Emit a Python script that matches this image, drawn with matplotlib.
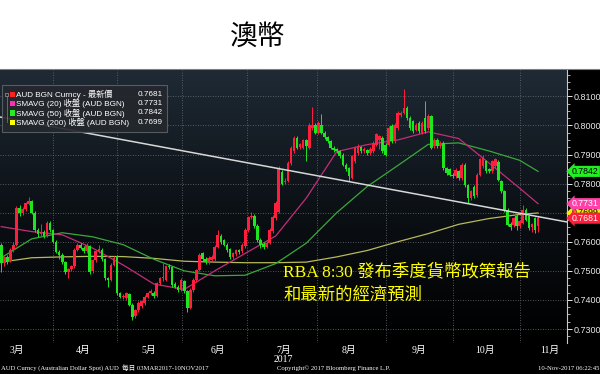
import numpy as np
import matplotlib
matplotlib.use('Agg')
import matplotlib.pyplot as plt
from matplotlib.patches import Rectangle
from matplotlib.lines import Line2D
from matplotlib.colors import LinearSegmentedColormap
from matplotlib.ticker import MultipleLocator, FormatStrFormatter
import matplotlib.transforms as mtransforms

# ---------------- data (daily candles, AUD spot) ----------------
opens = [0.7588, 0.7528, 0.7548, 0.7535, 0.7572, 0.7590, 0.7717, 0.7700, 0.7712, 0.7730,
         0.7740, 0.7700, 0.7640, 0.7625, 0.7635, 0.7620, 0.7665, 0.7640, 0.7600, 0.7565,
         0.7555, 0.7530, 0.7497, 0.7505, 0.7515, 0.7572, 0.7590, 0.7580, 0.7567,
         0.7584, 0.7498, 0.7538, 0.7567, 0.7572, 0.7540, 0.7475, 0.7469, 0.7521, 0.7550,
         0.7423, 0.7411, 0.7406, 0.7420, 0.7383, 0.7345, 0.7366, 0.7380, 0.7389, 0.7411,
         0.7423, 0.7425, 0.7415, 0.7458, 0.7475, 0.7470, 0.7515, 0.7512, 0.7455, 0.7446,
         0.7434, 0.7465, 0.7429,
         0.7372, 0.7434, 0.7469, 0.7503, 0.7560, 0.7540, 0.7530, 0.7538, 0.7540, 0.7583,
         0.7620, 0.7605, 0.7590, 0.7575, 0.7548, 0.7558, 0.7570, 0.7568, 0.7585, 0.7640,
         0.7684, 0.7690, 0.7655, 0.7605, 0.7592, 0.7583, 0.7597, 0.7636, 0.7680, 0.7704,
         0.7840, 0.7805, 0.7810, 0.7870, 0.7911, 0.7957, 0.7925, 0.7923, 0.7950, 0.7923,
         0.7990, 0.8003, 0.7975, 0.8003, 0.7975, 0.7960, 0.7946, 0.7923, 0.7918, 0.7911,
         0.7900, 0.7865, 0.7854, 0.7819, 0.7877, 0.7905, 0.7925, 0.7911, 0.7915, 0.7905,
         0.7911, 0.7934,
         0.7950, 0.7957, 0.7934, 0.7934, 0.7998, 0.7946, 0.7992, 0.8035, 0.8044, 0.8061,
         0.8027, 0.8015, 0.7986, 0.8010, 0.7975, 0.8027, 0.7992, 0.8032, 0.7928, 0.7951,
         0.7928, 0.7940, 0.7854, 0.7850, 0.7831, 0.7825, 0.7842, 0.7819, 0.7865, 0.7796,
         0.7750, 0.7790,
         0.7760, 0.7830, 0.7860, 0.7877, 0.7850, 0.7843, 0.7860, 0.7875, 0.7808, 0.7774,
         0.7710, 0.7662, 0.7659, 0.7690, 0.7655, 0.7665, 0.7710, 0.7687, 0.7650, 0.7681,
         0.7655]
highs = [0.7595, 0.7552, 0.7555, 0.7578, 0.7598, 0.7722, 0.7725, 0.7718, 0.7738, 0.7755,
         0.7745, 0.7705, 0.7648, 0.7660, 0.7640, 0.7672, 0.7670, 0.7645, 0.7605, 0.7570,
         0.7560, 0.7535, 0.7510, 0.7520, 0.7578, 0.7596, 0.7595, 0.7585, 0.7596,
         0.7590, 0.7542, 0.7572, 0.7590, 0.7578, 0.7545, 0.7480, 0.7526, 0.7552, 0.7555,
         0.7428, 0.7420, 0.7428, 0.7425, 0.7388, 0.7370, 0.7395, 0.7400, 0.7416, 0.7428,
         0.7436, 0.7430, 0.7462, 0.7480, 0.7526, 0.7520, 0.7522, 0.7516, 0.7460, 0.7450,
         0.7474, 0.7470, 0.7433,
         0.7440, 0.7474, 0.7508, 0.7562, 0.7566, 0.7546, 0.7550, 0.7553, 0.7588, 0.7640,
         0.7626, 0.7610, 0.7595, 0.7580, 0.7566, 0.7576, 0.7575, 0.7596, 0.7646, 0.7690,
         0.7703, 0.7695, 0.7660, 0.7612, 0.7598, 0.7602, 0.7648, 0.7692, 0.7740, 0.7860,
         0.7848, 0.7818, 0.7876, 0.7928, 0.7962, 0.7962, 0.7940, 0.7955, 0.7955, 0.8008,
         0.8065, 0.8010, 0.8016, 0.8039, 0.7980, 0.7965, 0.7950, 0.7928, 0.7922, 0.7916,
         0.7905, 0.7870, 0.7858, 0.7900, 0.7928, 0.7936, 0.7930, 0.7925, 0.7920, 0.7925,
         0.7946, 0.7975,
         0.7968, 0.7962, 0.7940, 0.7998, 0.8004, 0.8009, 0.8050, 0.8050, 0.8124, 0.8066,
         0.8032, 0.8020, 0.8008, 0.8015, 0.8014, 0.8085, 0.8038, 0.8036, 0.7956, 0.7956,
         0.7945, 0.7945, 0.7858, 0.7855, 0.7836, 0.7853, 0.7847, 0.7870, 0.7870, 0.7800,
         0.7778, 0.7795,
         0.7836, 0.7888, 0.7900, 0.7882, 0.7855, 0.7882, 0.7888, 0.7880, 0.7813, 0.7779,
         0.7715, 0.7668, 0.7686, 0.7695, 0.7675, 0.7728, 0.7715, 0.7692, 0.7665, 0.7686,
         0.7690]
lows = [0.7495, 0.7515, 0.7525, 0.7530, 0.7565, 0.7585, 0.7690, 0.7692, 0.7705, 0.7725,
        0.7695, 0.7635, 0.7618, 0.7620, 0.7612, 0.7615, 0.7635, 0.7595, 0.7560, 0.7540,
        0.7525, 0.7490, 0.7476, 0.7498, 0.7510, 0.7568, 0.7575, 0.7560, 0.7562,
        0.7490, 0.7492, 0.7532, 0.7562, 0.7535, 0.7470, 0.7446, 0.7465, 0.7515, 0.7418,
        0.7405, 0.7402, 0.7400, 0.7378, 0.7330, 0.7338, 0.7360, 0.7372, 0.7384, 0.7405,
        0.7418, 0.7408, 0.7410, 0.7452, 0.7465, 0.7464, 0.7505, 0.7444, 0.7440, 0.7428,
        0.7430, 0.7424, 0.7360,
        0.7368, 0.7428, 0.7462, 0.7498, 0.7535, 0.7522, 0.7524, 0.7533, 0.7535, 0.7578,
        0.7594, 0.7584, 0.7564, 0.7540, 0.7540, 0.7550, 0.7558, 0.7562, 0.7580, 0.7634,
        0.7678, 0.7648, 0.7598, 0.7580, 0.7576, 0.7578, 0.7592, 0.7630, 0.7675, 0.7698,
        0.7795, 0.7798, 0.7805, 0.7865, 0.7905, 0.7918, 0.7920, 0.7918, 0.7877, 0.7918,
        0.7985, 0.7970, 0.7970, 0.7970, 0.7955, 0.7940, 0.7918, 0.7910, 0.7906, 0.7888,
        0.7860, 0.7845, 0.7808, 0.7815, 0.7872, 0.7900, 0.7906, 0.7906, 0.7900, 0.7900,
        0.7906, 0.7928,
        0.7918, 0.7905, 0.7895, 0.7928, 0.7940, 0.7940, 0.7986, 0.8030, 0.8038, 0.8020,
        0.7986, 0.7975, 0.7980, 0.7975, 0.7970, 0.7975, 0.7986, 0.7918, 0.7922, 0.7922,
        0.7922, 0.7848, 0.7830, 0.7826, 0.7820, 0.7820, 0.7814, 0.7814, 0.7790, 0.7733,
        0.7745, 0.7750,
        0.7755, 0.7825, 0.7855, 0.7838, 0.7838, 0.7838, 0.7855, 0.7808, 0.7768, 0.7704,
        0.7653, 0.7640, 0.7650, 0.7640, 0.7648, 0.7660, 0.7670, 0.7640, 0.7632, 0.7630,
        0.7635]
closes = [0.7528, 0.7548, 0.7535, 0.7572, 0.7590, 0.7717, 0.7700, 0.7712, 0.7733, 0.7740,
          0.7700, 0.7640, 0.7625, 0.7635, 0.7620, 0.7665, 0.7640, 0.7600, 0.7565, 0.7555,
          0.7530, 0.7497, 0.7505, 0.7515, 0.7572, 0.7590, 0.7580, 0.7567, 0.7590,
          0.7495, 0.7538, 0.7567, 0.7575, 0.7540, 0.7475, 0.7469, 0.7521, 0.7545, 0.7423,
          0.7411, 0.7415, 0.7423, 0.7383, 0.7342, 0.7366, 0.7389, 0.7395, 0.7411, 0.7423,
          0.7430, 0.7415, 0.7458, 0.7475, 0.7480, 0.7515, 0.7512, 0.7450, 0.7446, 0.7434,
          0.7469, 0.7429, 0.7371,
          0.7434, 0.7469, 0.7503, 0.7555, 0.7540, 0.7530, 0.7545, 0.7548, 0.7583, 0.7624,
          0.7600, 0.7590, 0.7570, 0.7548, 0.7560, 0.7570, 0.7565, 0.7590, 0.7640, 0.7684,
          0.7690, 0.7655, 0.7605, 0.7588, 0.7583, 0.7595, 0.7641, 0.7686, 0.7734, 0.7854,
          0.7800, 0.7810, 0.7870, 0.7923, 0.7957, 0.7923, 0.7935, 0.7950, 0.7930, 0.8003,
          0.8003, 0.7975, 0.8010, 0.7975, 0.7960, 0.7946, 0.7923, 0.7915, 0.7912, 0.7894,
          0.7865, 0.7850, 0.7825, 0.7894, 0.7923, 0.7930, 0.7911, 0.7920, 0.7905, 0.7920,
          0.7940, 0.7969,
          0.7963, 0.7911, 0.7900, 0.7992, 0.7946, 0.8003, 0.8044, 0.8044, 0.8061, 0.8027,
          0.7992, 0.7980, 0.8003, 0.7980, 0.8009, 0.7980, 0.8032, 0.7923, 0.7951, 0.7928,
          0.7940, 0.7854, 0.7836, 0.7831, 0.7825, 0.7848, 0.7819, 0.7865, 0.7796, 0.7750,
          0.7773, 0.7756,
          0.7830, 0.7883, 0.7888, 0.7843, 0.7845, 0.7877, 0.7883, 0.7814, 0.7774, 0.7710,
          0.7659, 0.7650, 0.7681, 0.7653, 0.7670, 0.7710, 0.7676, 0.7647, 0.7660, 0.7641,
          0.7681]

# moving averages sampled every 10 trading days
ma_days = [0, 10, 20, 30, 40, 50, 60, 70, 80, 90, 100, 110, 120, 130, 140, 150, 160, 170, 176]
sma20 = [0.7652, 0.7635, 0.7624, 0.7578, 0.7520, 0.7455, 0.7436, 0.7500, 0.7560, 0.7620,
         0.7750, 0.7910, 0.7934, 0.7950, 0.7978, 0.7955, 0.7870, 0.7784, 0.7731]
sma50 = [0.7545, 0.7610, 0.7631, 0.7617, 0.7590, 0.7540, 0.7500, 0.7483, 0.7485, 0.7525,
         0.7595, 0.7700, 0.7790, 0.7862, 0.7935, 0.7940, 0.7912, 0.7880, 0.7842]
sma200 = [0.7530, 0.7545, 0.7548, 0.7550, 0.7549, 0.7543, 0.7533, 0.7530, 0.7528, 0.7528,
          0.7530, 0.7548, 0.7570, 0.7600, 0.7628, 0.7660, 0.7680, 0.7694, 0.7699]

trend_days = [-0.4, 185.5]
trend_vals = [0.8029, 0.7668]

month_labels = ['3月', '4月', '5月', '6月', '7月', '8月', '9月', '10月', '11月']
month_label_days = [5, 27, 48.5, 71, 92.5, 114, 137, 158.5, 180]
month_start_days = [17, 38, 59.3, 80.6, 103.5, 126.2, 148.1, 170.1]
year_label = '2017'

legend_names = ['AUD BGN Curncy - 最新價', 'SMAVG (20) 收盤 (AUD BGN)',
                'SMAVG (50) 收盤 (AUD BGN)', 'SMAVG (200) 收盤 (AUD BGN)']
legend_values = ['0.7681', '0.7731', '0.7842', '0.7699']

title = '澳幣'
note_line1 = 'RBA 8:30 發布季度貨幣政策報告'
note_line2 = '和最新的經濟預測'
footer_left = 'AUD Curncy (Australian Dollar Spot) AUD  每日 03MAR2017-10NOV2017'
footer_mid = 'Copyright© 2017 Bloomberg Finance L.P.'
footer_right = '10-Nov-2017 06:22:45'

# ---------------- styling ----------------
UP = '#ff1f3d'
DOWN = '#1ee61e'
C20 = '#c42d7a'
C50 = '#3aa83a'
C200 = '#b8b85c'
SQ = ['#ff2020', '#ff30b0', '#22ee22', '#ffff00']
BOX = ['#ff1f3d', '#ff40a8', '#22ee22', '#eeee00']
BOXTXT = ['white', 'white', 'black', 'black']

SANS = ['Liberation Sans', 'Noto Sans CJK TC', 'DejaVu Sans']
SERIF = ['Liberation Serif', 'Noto Sans CJK TC', 'DejaVu Sans']
CJK = ['Noto Sans CJK TC', 'DejaVu Sans']

W, H = 600, 374
fig = plt.figure(figsize=(6, 3.74), dpi=100)
fig.patch.set_facecolor('white')


def fx(x):
    return x / W


def fy(y):
    return 1 - y / H


# black Bloomberg panel + separator line
fig.add_artist(Rectangle((0, 0), 1, fy(69), transform=fig.transFigure,
                         facecolor='black', edgecolor='none', zorder=0))
fig.add_artist(Line2D([0, 1], [fy(68.5), fy(68.5)], transform=fig.transFigure,
                      color='#808080', lw=0.8, zorder=1))
fig.text(fx(258), fy(37), title, family=CJK, fontsize=20, ha='center', va='center',
         color='black')

ax_rect = [0, fy(343), fx(567), fy(70) - fy(343)]
bg = fig.add_axes(ax_rect, zorder=1)
grad = np.linspace(0, 1, 256).reshape(-1, 1)
cmap = LinearSegmentedColormap.from_list('bbg', ['#000000', '#0c1116', '#1f2a35'])
bg.imshow(grad, aspect='auto', cmap=cmap, origin='lower', extent=[0, 1, 0, 1])
bg.set_axis_off()

ax = fig.add_axes(ax_rect, zorder=2)
ax.set_facecolor('none')
ylo, yhi = 0.72519, 0.81906
ax.set_xlim(-0.4, 185.5)
ax.set_ylim(ylo, yhi)

# grid
for d in month_start_days:
    ax.axvline(d, color='#6a7078', lw=0.6, ls=(0, (1, 2)), zorder=1)
for v in np.arange(0.73, 0.8101, 0.01):
    ax.axhline(v, color='#6a7078', lw=0.6, ls=(0, (1, 2)), zorder=1)

# moving averages
ax.plot(ma_days, sma200, color=C200, lw=0.9, zorder=2)
ax.plot(ma_days, sma50, color=C50, lw=0.9, zorder=2)
ax.plot(ma_days, sma20, color=C20, lw=0.9, zorder=2)

# candles
o = np.array(opens); h = np.array(highs); l = np.array(lows); c = np.array(closes)
idx = np.arange(len(c))
cols = [UP if cc >= oo else DOWN for oo, cc in zip(o, c)]
ax.vlines(idx, l, h, colors=cols, lw=0.7, zorder=3)
body = np.maximum(np.abs(c - o), 0.00035)
ax.bar(idx, body, bottom=np.minimum(o, c), width=0.85, color=cols, zorder=4, linewidth=0)

# trend line
ax.plot(trend_days, trend_vals, color='#d8d8d8', lw=1.1, zorder=5)

# axes styling
for s in ['top', 'left', 'bottom']:
    ax.spines[s].set_visible(False)
ax.spines['right'].set_color('#c8c8c8')
ax.spines['right'].set_linewidth(0.8)
ax.set_xticks([])
ax.yaxis.tick_right()
ax.yaxis.set_major_locator(MultipleLocator(0.01))
ax.yaxis.set_minor_locator(MultipleLocator(0.0025))
ax.yaxis.set_major_formatter(FormatStrFormatter('%.4f'))
ax.tick_params(axis='y', which='major', colors='#e8e8e8', length=3.5, width=0.7,
               pad=1, labelsize=6.5)
ax.tick_params(axis='y', which='minor', colors='#c8c8c8', length=2, width=0.6)
for t in ax.get_yticklabels():
    t.set_family(SANS)

# right-side value flags
btrans = mtransforms.blended_transform_factory(ax.transAxes, ax.transData)
flag_vals = [float(v) for v in legend_values]
for k in [3, 2, 1, 0]:
    ax.text(1.009, flag_vals[k], legend_values[k], transform=btrans, ha='left', va='center',
            fontsize=6.3, family=SANS, color=BOXTXT[k], zorder=10, clip_on=False,
            bbox=dict(boxstyle='larrow,pad=0.12', fc=BOX[k], ec='none'))

# month labels
xtrans = mtransforms.blended_transform_factory(ax.transData, fig.transFigure)
for lab, d in zip(month_labels, month_label_days):
    ax.text(d, fy(350), lab, transform=xtrans, ha='center', va='center', fontsize=7,
            family=SERIF, color='white', clip_on=False)
ax.text(month_label_days[4], fy(359), year_label, transform=xtrans, ha='center',
        va='center', fontsize=7, family=SERIF, color='white', clip_on=False)

# annotation
ax.text(92.5, fy(272), note_line1, transform=xtrans, ha='left', va='center', fontsize=12.5,
        family=['Liberation Serif', 'Noto Sans CJK TC'], color='#ffff00', zorder=8)
ax.text(92.5, fy(296), note_line2, transform=xtrans, ha='left', va='center', fontsize=12.5,
        family=['Liberation Serif', 'Noto Sans CJK TC'], color='#ffff00', zorder=8)

# legend
fig.add_artist(Rectangle((fx(2), fy(132)), fx(167) - fx(2), fy(85) - fy(132),
                         transform=fig.transFigure, facecolor='#24282d', alpha=0.92,
                         edgecolor='#5c6168', lw=0.8, zorder=5))
rows_y = [94.3, 103.7, 113.0, 122.3]
fig.add_artist(Line2D([fx(6.5), fx(6.5)], [fy(rows_y[0]), fy(rows_y[3])],
                      transform=fig.transFigure, color='#80858c', lw=0.5, zorder=6))
fig.add_artist(Rectangle((fx(5), fy(rows_y[0] + 1.5)), fx(3) - fx(0), fy(0) - fy(3),
                         transform=fig.transFigure, facecolor='#24282d',
                         edgecolor='#9a9fa6', lw=0.5, zorder=6))
for k in range(4):
    fig.add_artist(Rectangle((fx(10), fy(rows_y[k] + 2.5)), fx(5) - fx(0), fy(0) - fy(5),
                             transform=fig.transFigure, facecolor=SQ[k],
                             edgecolor='none', zorder=6))
    fig.text(fx(16.5), fy(rows_y[k]), legend_names[k], ha='left', va='center',
             fontsize=5.9, family=SANS, color='white', zorder=7)
    fig.text(fx(163), fy(rows_y[k]), legend_values[k], ha='right', va='center',
             fontsize=5.9, family=SANS, color='white', zorder=7)

# footer
fig.text(fx(1), fy(368), footer_left, ha='left', va='center', fontsize=4.8, family=SERIF,
         color='white')
fig.text(fx(334), fy(368), footer_mid, ha='center', va='center', fontsize=4.8, family=SERIF,
         color='white')
fig.text(fx(599), fy(368), footer_right, ha='right', va='center', fontsize=4.8, family=SERIF,
         color='white')

fig.savefig('out.png', dpi=100, facecolor=fig.get_facecolor())
